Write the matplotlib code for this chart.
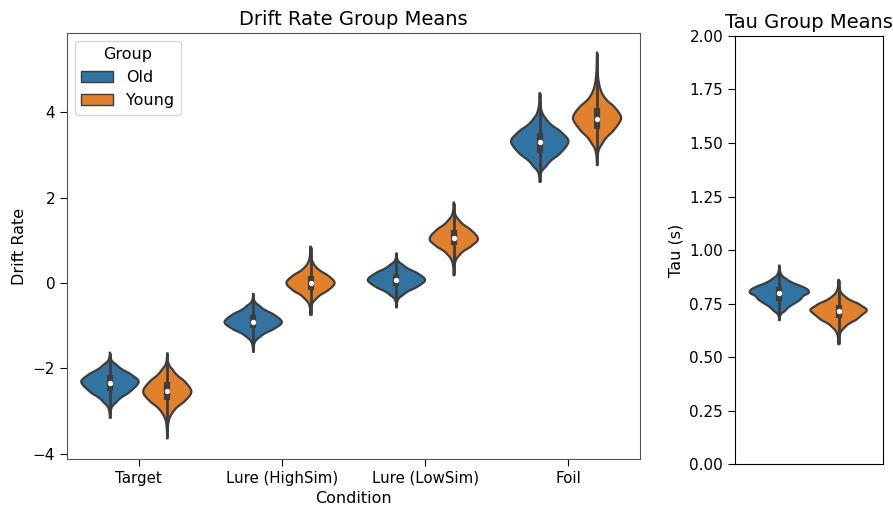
import numpy as np
import matplotlib
matplotlib.use("Agg")
import matplotlib.pyplot as plt
from matplotlib.patches import Patch

# conditions on the drift-rate panel
conditions = ["Target", "Lure (HighSim)", "Lure (LowSim)", "Foil"]
groups = ["Old", "Young"]

# posterior group means, summarised as quantiles at p = .05, .15, ..., .95
drift_old = [
    [-2.976, -2.643, -2.535, -2.449, -2.375, -2.307, -2.239, -2.16, -2.06, -1.753],
    [-1.406, -1.145, -1.06, -0.993, -0.935, -0.879, -0.819, -0.75, -0.662, -0.394],
    [-0.42, -0.164, -0.08, -0.014, 0.043, 0.097, 0.154, 0.22, 0.304, 0.56],
    [2.507, 2.916, 3.05, 3.155, 3.247, 3.332, 3.419, 3.52, 3.648, 4.04],
]
drift_young = [
    [-3.221, -2.862, -2.745, -2.653, -2.573, -2.496, -2.414, -2.32, -2.20, -1.833],
    [-0.522, -0.249, -0.16, -0.09, -0.029, 0.029, 0.09, 0.16, 0.249, 0.522],
    [0.496, 0.785, 0.88, 0.955, 1.019, 1.083, 1.151, 1.23, 1.33, 1.637],
    [3.034, 3.46, 3.60, 3.71, 3.805, 3.893, 3.985, 4.09, 4.224, 4.633],
]
# lowest / highest posterior sample (end of the violin tails)
drift_old_min = [-3.15, -1.605, -0.57, 2.37]
drift_old_max = [-1.635, -0.26, 0.69, 4.44]
drift_young_min = [-3.635, -0.745, 0.18, 2.76]
drift_young_max = [-1.65, 0.85, 1.88, 5.39]

tau_old = [0.684, 0.743, 0.763, 0.778, 0.792, 0.803, 0.814, 0.826, 0.842, 0.889]
tau_young = [0.606, 0.663, 0.681, 0.6955, 0.708, 0.719, 0.730, 0.743, 0.759, 0.809]
tau_min = [0.673, 0.56]
tau_max = [0.927, 0.86]

colors = {"Old": "#3274a1", "Young": "#e1812c"}
line_col = "#3d3d3d"

plt.rcParams['xtick.labelsize'] = 10.8
plt.rcParams['ytick.labelsize'] = 11
plt.rcParams['axes.labelsize'] = 11.5
plt.rcParams['xtick.major.size'] = 5
plt.rcParams['ytick.major.size'] = 5


def density(q, lo, hi, n=500):
    # density from quantiles: mass / spacing at each gap, log-linear to the tail ends
    q = np.asarray(q, dtype=float)
    mids = (q[1:] + q[:-1]) / 2
    dens = (1.0 / len(q)) / np.diff(q)
    xk = np.r_[lo, mids, hi]
    lk = np.log(np.r_[dens.max() * 0.004, dens, dens.max() * 0.004])
    grid = np.linspace(lo, hi, n)
    d = np.exp(np.interp(grid, xk, lk))
    s = 0.06 * (q[7] - q[2]) / (grid[1] - grid[0])
    m = int(3 * s) + 1
    k = np.exp(-0.5 * (np.arange(-m, m + 1) / s) ** 2)
    d = np.convolve(np.pad(d, m, mode="edge"), k / k.sum(), mode="valid")
    return grid, d


def violin(ax, pos, q, lo, hi, color, half=0.2):
    grid, dens = density(q, lo, hi)
    dens = dens / dens.max() * half
    xs = np.concatenate([pos - dens, (pos + dens)[::-1]])
    ys = np.concatenate([grid, grid[::-1]])
    ax.fill(xs, ys, facecolor=color, edgecolor=line_col, linewidth=1.6, zorder=2)
    # inner box
    q1, med, q3 = np.percentile(q, [25, 50, 75], method="hazen")
    ax.plot([pos, pos], [lo, hi], color=line_col, lw=2.0, solid_capstyle="butt", zorder=3)
    ax.plot([pos, pos], [q1, q3], color=line_col, lw=4.5, solid_capstyle="butt", zorder=3)
    ax.plot(pos, med, "o", color="white", ms=2.8, zorder=4)


fig = plt.figure(figsize=(8.93, 5.07), dpi=100)
ax = fig.add_axes([0.075, 0.0947, 0.6417, 0.8402])
ax2 = fig.add_axes([0.823, 0.0848, 0.1658, 0.8442])

x = np.arange(len(conditions))
for i in range(len(conditions)):
    violin(ax, x[i] - 0.2, drift_old[i], drift_old_min[i], drift_old_max[i], colors["Old"])
    violin(ax, x[i] + 0.2, drift_young[i], drift_young_min[i], drift_young_max[i],
           colors["Young"], half=0.2 * 0.84)

ax.set_xlim(-0.5, len(conditions) - 0.5)
ax.set_ylim(-4.12, 5.85)
ax.set_xticks(x)
ax.set_xticklabels(conditions)
ax.set_yticks([-4, -2, 0, 2, 4])
ax.set_xlabel("Condition")
ax.set_ylabel("Drift Rate")
ax.set_title("Drift Rate Group Means", fontsize=14)
for s in ax.spines.values():
    s.set_color("#555555")

handles = [Patch(facecolor=colors[g], edgecolor=line_col, label=g) for g in groups]
ax.legend(handles=handles, title="Group", loc="upper left", fontsize=11.5, title_fontsize=11.5)

violin(ax2, -0.2, tau_old, tau_min[0], tau_max[0], colors["Old"])
violin(ax2, 0.2, tau_young, tau_min[1], tau_max[1], colors["Young"], half=0.2 * 0.95)
ax2.set_xlim(-0.5, 0.5)
ax2.set_ylim(0, 2)
ax2.set_yticks(np.arange(0, 2.01, 0.25))
ax2.set_xticks([])
ax2.set_ylabel("Tau (s)")
ax2.set_title("Tau Group Means", fontsize=14)

fig.savefig("out.png", dpi=100)
